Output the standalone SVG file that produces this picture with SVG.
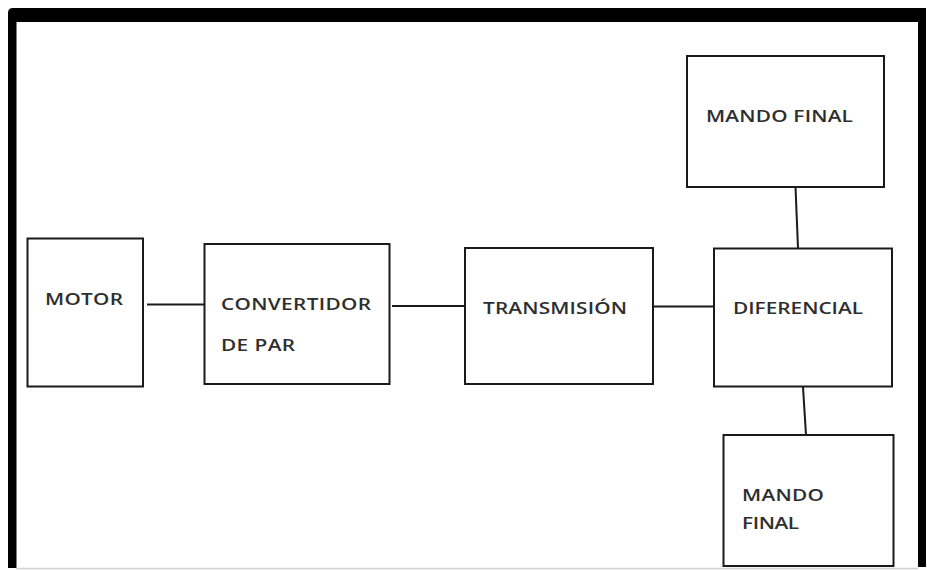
<svg xmlns="http://www.w3.org/2000/svg" width="927" height="570" viewBox="0 0 927 570">
<style>
.box{fill:#fff;stroke:#1a1a1a;stroke-width:2}
.lbl{font-family:"Open Sans","Liberation Sans",sans-serif;font-weight:600;font-size:16px;fill:#2e2e2e}
.con{stroke:#1a1a1a;stroke-width:2;fill:none}
</style>
<rect x="0" y="0" width="927" height="570" fill="#fff"/>
<g id="frame">
<path d="M8,568 L8,13 Q8,8 13,8 L926,8 L926,567 L918,567 L918,22 L16.5,22 L16.5,568 Z" fill="#000"/>
<line x1="16" y1="568.5" x2="918" y2="568.5" stroke="#d0d0d0" stroke-width="1.5"/>
</g>
<g id="connectors">
<line class="con" x1="147" y1="304.5" x2="204" y2="304.5"/>
<line class="con" x1="392" y1="306" x2="465" y2="306"/>
<line class="con" x1="653" y1="306.5" x2="714" y2="306.5"/>
<line class="con" x1="795.5" y1="187" x2="798" y2="248"/>
<line class="con" x1="803" y1="387" x2="806" y2="435"/>
</g>
<g id="motor">
<rect class="box" x="27.5" y="238.5" width="115.5" height="148"/>
<text class="lbl" transform="translate(45 304.5) scale(1.3 1)" textLength="60" lengthAdjust="spacing">MOTOR</text>
</g>
<g id="convertidor">
<rect class="box" x="204.5" y="244" width="185" height="140"/>
<text class="lbl" transform="translate(221 310) scale(1.3 1)" textLength="115.4" lengthAdjust="spacing">CONVERTIDOR</text>
<text class="lbl" transform="translate(221 350.5) scale(1.3 1)" textLength="57" lengthAdjust="spacing">DE PAR</text>
</g>
<g id="transmision">
<rect class="box" x="465" y="248" width="188" height="136"/>
<text class="lbl" transform="translate(483 313.5) scale(1.3 1)" textLength="110.8" lengthAdjust="spacing">TRANSMISIÓN</text>
</g>
<g id="diferencial">
<rect class="box" x="714" y="248.5" width="178" height="138"/>
<text class="lbl" transform="translate(733 313.5) scale(1.3 1)" textLength="100" lengthAdjust="spacing">DIFERENCIAL</text>
</g>
<g id="mando-final-top">
<rect class="box" x="687" y="56" width="197" height="131"/>
<text class="lbl" transform="translate(706 122) scale(1.3 1)" textLength="113" lengthAdjust="spacing">MANDO FINAL</text>
</g>
<g id="mando-final-bottom">
<rect class="box" x="723.5" y="435" width="170" height="131"/>
<text class="lbl" transform="translate(742 501) scale(1.3 1)" textLength="63" lengthAdjust="spacing">MANDO</text>
<text class="lbl" transform="translate(742 529) scale(1.3 1)" textLength="44" lengthAdjust="spacing">FINAL</text>
</g>
</svg>
